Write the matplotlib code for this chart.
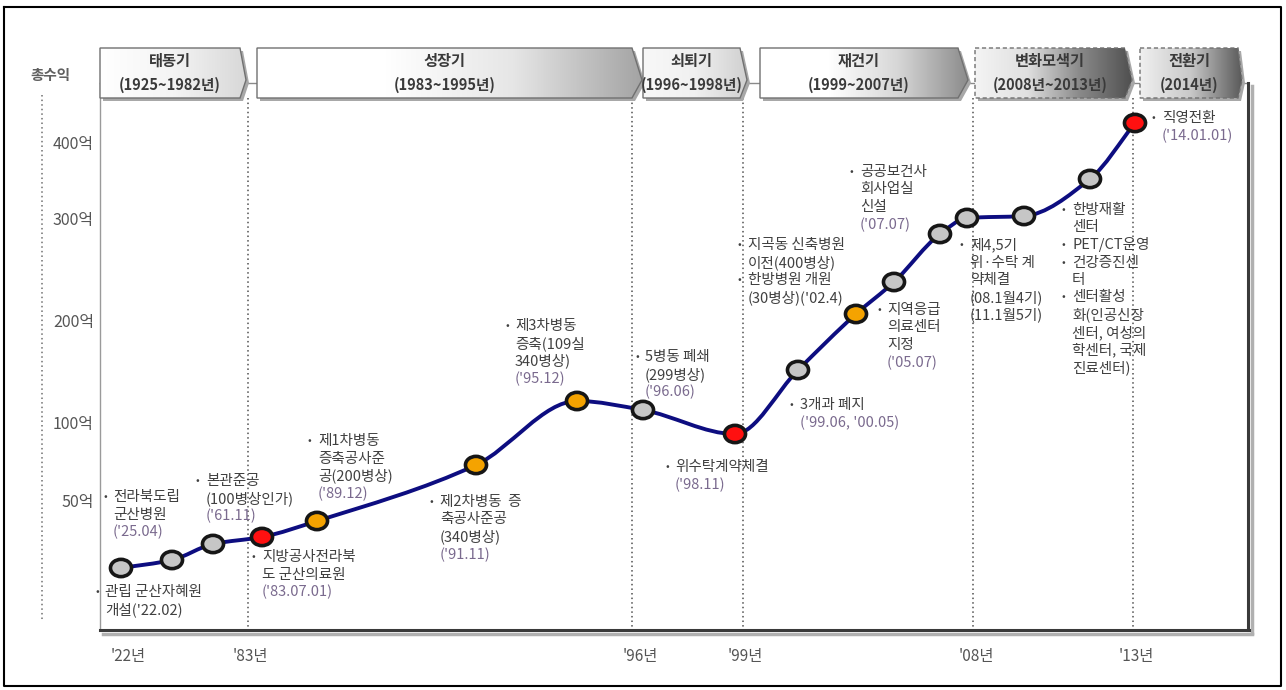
import numpy as np
import matplotlib.pyplot as plt
from matplotlib.patches import Polygon, PathPatch
from matplotlib.path import Path
from matplotlib.colors import LinearSegmentedColormap

plt.rcParams['font.family'] = ['Noto Sans CJK KR', 'DejaVu Sans']

# ---- data (timeline position, curve height) ----
point_x = [121, 172, 213, 262, 317, 476, 577, 643, 735, 798, 856, 894, 940, 967, 1024, 1090, 1135]
point_y = [568, 560, 544, 537, 521, 465, 401, 410, 434, 370, 314, 282, 234, 218, 216, 179, 123]
point_kind = ['g', 'g', 'g', 'r', 'o', 'o', 'o', 'g', 'r', 'g', 'o', 'g', 'g', 'g', 'g', 'g', 'r']

y_tick_labels = ['400억', '300억', '200억', '100억', '50억']
y_tick_pos = [145, 220, 323, 425, 503]
x_tick_labels = ["'22년", "'83년", "'96년", "'99년", "'08년", "'13년"]
x_tick_pos = [128, 250, 640, 745, 976, 1136]
period_lines = [248, 632, 743, 973, 1133]

periods = ['태동기', '성장기', '쇠퇴기', '재건기', '변화모색기', '전환기']
period_years = ['(1925~1982년)', '(1983~1995년)', '(1996~1998년)', '(1999~2007년)',
                '(2008년~2013년)', '(2014년)']

notes = [
    (95, 592, ['• 관립 군산자혜원', "개설('22.02)"]),
    (103, 497, ['• 전라북도립', '군산병원', "('25.04)"]),
    (196, 481, ['• 본관준공', '(100병상인가)', "('61.11)"]),
    (252, 557, ['• 지방공사전라북', '도 군산의료원', "('83.07.01)"]),
    (308, 441, ['• 제1차병동', '증축공사준', '공(200병상)', "('89.12)"]),
    (430, 502, ['• 제2차병동  증', '축공사준공', '(340병상)', "('91.11)"]),
    (505, 326, ['• 제3차병동', '증축(109실', '340병상)', "('95.12)"]),
    (635, 357, ['• 5병동 폐쇄', '(299병상)', "('96.06)"]),
    (665, 467, ['• 위수탁계약체결', "('98.11)"]),
    (790, 405, ['• 3개과 폐지', "('99.06, '00.05)"]),
    (877, 310, ['• 지역응급', '의료센터', '지정', "('05.07)"]),
    (850, 172, ['• 공공보건사', '회사업실', '신설', "('07.07)"]),
    (738, 245, ['• 지곡동 신축병원', '이전(400병상)', '• 한방병원 개원', "(30병상)('02.4)"]),
    (960, 245, ['• 제4,5기', '위·수탁 계', '약체결', '(08.1월4기)', '(11.1월5기)']),
    (1062, 210, ['• 한방재활', '센터', '• PET/CT운영', '• 건강증진센', '터', '• 센터활성',
                 '화(인공신장', '센터, 여성의', '학센터, 국제', '진료센터)']),
    (1152, 118, ['• 직영전환', "('14.01.01)"]),
]

fig = plt.figure(figsize=(12.86, 6.90), dpi=100)
ax = fig.add_axes([0, 0, 1, 1])
ax.set_xlim(0, 1286)
ax.set_ylim(690, 0)
ax.axis('off')

# outer frame
ax.plot([4, 1281, 1281, 4, 4], [7, 7, 686, 686, 7], color='black', lw=1.5, zorder=1)

# chart box
ax.plot([100, 1248], [83, 83], color='#8a8a8a', lw=1, zorder=2)
ax.plot([100, 100], [83, 630], color='#9a9a9a', lw=1, zorder=2)
ax.plot([103, 1252], [633.5, 633.5], color='#b0b0b0', lw=2.5, zorder=2)
ax.plot([1251.5, 1251.5], [86, 633], color='#b0b0b0', lw=2.5, zorder=2)
ax.plot([100, 1249], [630, 630], color='#3a3a3a', lw=2.2, zorder=3)
ax.plot([1248, 1248], [83, 630], color='#3a3a3a', lw=2.2, zorder=3)

for xv in period_lines:
    ax.plot([xv, xv], [98, 630], color='#505050', lw=1.1, ls=(0, (1, 2)), zorder=2)

# left revenue axis
ax.plot([42, 42], [95, 620], color='#707070', lw=1.1, ls=(0, (1, 2)), zorder=2)
ax.text(50, 75, '총수익', ha='center', va='center', fontsize=10.5, fontweight='bold', color='#606060')
for lab, yv in zip(y_tick_labels, y_tick_pos):
    ax.text(94, yv, lab, ha='right', va='center', fontsize=11.5, color='#555555')
for lab, xv in zip(x_tick_labels, x_tick_pos):
    ax.text(xv, 656, lab, ha='center', va='center', fontsize=11, color='#555555')


def banner(x0, x1, tip, title, sub, colors, dashed=False):
    y0, y1, ym = 48, 98, 80
    verts = [(x0, y0), (x1, y0), (tip, ym), (x1, y1), (x0, y1)]
    ax.add_patch(Polygon([(vx + 3, vy + 3) for vx, vy in verts], closed=True,
                         fc='#a8a8a8', ec='none', zorder=3))
    edge = Polygon(verts, closed=True, fc='none', ec='#707070', lw=1,
                   ls=(0, (3, 2)) if dashed else '-', zorder=5)
    ax.add_patch(edge)
    cmap = LinearSegmentedColormap.from_list('band', colors)
    grad = np.linspace(0, 1, 256).reshape(1, -1)
    im = ax.imshow(grad, extent=[x0, tip, y1, y0], cmap=cmap, aspect='auto', zorder=4)
    im.set_clip_path(edge)
    cx = (x0 + x1) / 2
    ax.text(cx, 61, title, ha='center', va='center', fontsize=11, fontweight='bold',
            color='#3a3a3a', zorder=6)
    ax.text(cx, 85, sub, ha='center', va='center', fontsize=10.5, fontweight='bold',
            color='#3a3a3a', zorder=6)


banner_geo = [(100, 240, 246), (257, 632, 642), (643, 740, 747),
              (760, 958, 968), (975, 1125, 1132), (1140, 1238, 1242)]
banner_cols = [['#ffffff', '#f4f4f4', '#d8d8d8'],
               ['#ffffff', '#ffffff', '#e6e6e6', '#a4a4a4'],
               ['#f8f8f8', '#f0f0f0', '#d0d0d0'],
               ['#ffffff', '#ffffff', '#d6d6d6', '#8c8c8c'],
               ['#f4f4f4', '#e0e0e0', '#8a8a8a', '#505050'],
               ['#f0f0f0', '#c8c8c8', '#5a5a5a']]
for i, (g, c) in enumerate(zip(banner_geo, banner_cols)):
    banner(g[0], g[1], g[2], periods[i], period_years[i], c, dashed=(i >= 4))

# smooth revenue curve: monotone cubic Bezier through the points
px = np.array(point_x, float)
py = np.array(point_y, float)
h = np.diff(px)
d = np.diff(py) / h
m = np.zeros_like(py)
m[0], m[-1] = d[0], d[-1]
for k in range(1, len(px) - 1):
    if d[k - 1] * d[k] > 0:
        w1 = 2 * h[k] + h[k - 1]
        w2 = h[k] + 2 * h[k - 1]
        m[k] = (w1 + w2) / (w1 / d[k - 1] + w2 / d[k])
verts = [(px[0], py[0])]
codes = [Path.MOVETO]
for k in range(len(px) - 1):
    verts += [(px[k] + h[k] / 3, py[k] + m[k] * h[k] / 3),
              (px[k + 1] - h[k] / 3, py[k + 1] - m[k + 1] * h[k] / 3),
              (px[k + 1], py[k + 1])]
    codes += [Path.CURVE4] * 3
ax.add_patch(PathPatch(Path(verts, codes), fc='none', ec='#0d0d80', lw=2.8, zorder=7))

fill = {'g': '#c6c6c6', 'r': '#ff1010', 'o': '#f5a300'}
circ = Path.unit_circle()
ell = Path(circ.vertices * [1, 0.82], circ.codes)
ax.scatter(point_x, point_y, s=230, marker=ell, c=[fill[k] for k in point_kind],
           edgecolors='#161616', linewidths=2.6, zorder=8)

# event annotations
step = 17.5
for x0, y0, lines in notes:
    for j, line in enumerate(lines):
        yy = y0 + j * step
        col = '#7a6a8e' if line.startswith("('") else '#404040'
        if line.startswith('• '):
            ax.text(x0, yy, '•', ha='left', va='center', fontsize=8, color='#404040', zorder=9)
            ax.text(x0 + 10, yy, line[2:], ha='left', va='center', fontsize=10.5,
                    color=col, zorder=9)
        else:
            ax.text(x0 + 10, yy, line, ha='left', va='center', fontsize=10.5, color=col, zorder=9)

fig.savefig('out.png', dpi=100)
